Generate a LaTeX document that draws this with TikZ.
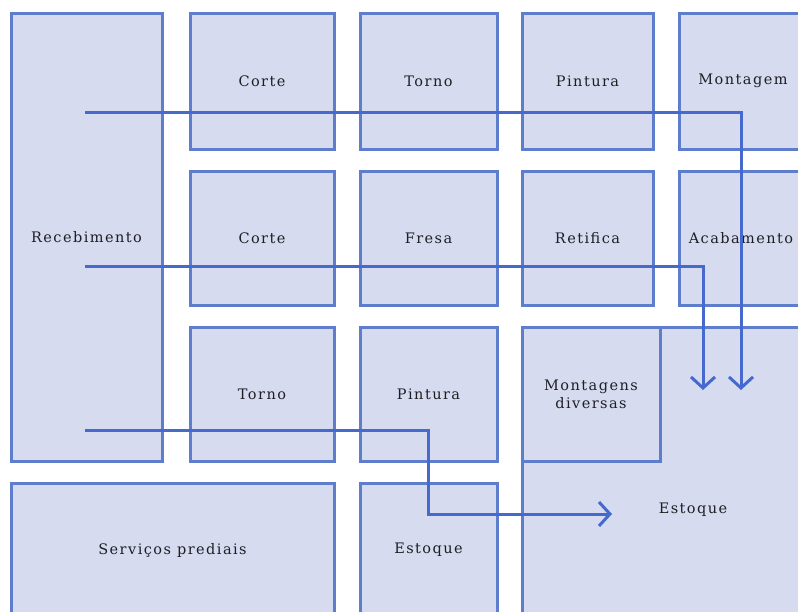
\documentclass[tikz,border=0pt]{standalone}
\usepackage{fontspec}
\setmainfont{DejaVu Serif}[LetterSpace=10]
\usepackage{xcolor}
\usetikzlibrary{positioning,arrows.meta}

\definecolor{areafill}{RGB}{214,219,240}
\definecolor{areaedge}{RGB}{95,125,205}
\definecolor{flowline}{RGB}{70,105,205}
\definecolor{areatext}{RGB}{30,30,35}

\begin{document}
\begin{tikzpicture}[
    x=1pt, y=-1pt,
    area/.style={rectangle, draw=areaedge, line width=3pt, fill=areafill, inner sep=0pt, font=\fontsize{14.5}{18}\selectfont, text=areatext, align=center},
    cell/.style={area, minimum height=134pt},
    flow/.style={draw=flowline, line width=3pt, -{Straight Barb[length=11pt,width=24pt]}},
]
\useasboundingbox (0,0) rectangle (798,611);
\clip (0,0) rectangle (798,611);

% Left: receiving
\node[area, minimum width=151pt, minimum height=448pt] (receb) at (86.5,237) {Recebimento};

% Row 1
\node[cell, minimum width=144pt, minimum height=136pt] (corte1) at (262,81) {Corte};
\node[cell, minimum width=137pt, minimum height=136pt] (torno1) at (428.5,81) {Torno};
\node[cell, minimum width=131pt, minimum height=136pt] (pintura1) at (587.5,81) {Pintura};
\node[cell, minimum width=128pt, minimum height=136pt] (montagem) at (743,81) {Montagem};

% Row 2
\node[cell, minimum width=144pt] (corte2) at (262,238) {Corte};
\node[cell, minimum width=137pt] (fresa) at (428.5,238) {Fresa};
\node[cell, minimum width=131pt] (retifica) at (587.5,238) {Retifica};
\node[cell, minimum width=124pt] (acabamento) at (741,238) {Acabamento};

% Row 3
\node[cell, minimum width=144pt] (torno2) at (262,394) {Torno};
\node[cell, minimum width=137pt] (pintura2) at (428.5,394) {Pintura};

% Stock area (runs off the page)
\node[area, minimum width=342pt, minimum height=366pt] (estoque1) at (693,510) {Estoque};
\node[cell, minimum width=138pt] (montdiv) at (591,394) {Montagens\\diversas};

% Bottom row
\node[cell, minimum width=323pt] (servicos) at (172.5,550) {Servi\c{c}os prediais};
\node[cell, minimum width=137pt] (estoque2) at (428.5,550) {Estoque};

% Flow coordinates
\coordinate (s1) at (85,112);
\coordinate (s2) at (85,266);
\coordinate (s3) at (85,430);
\coordinate (e1) at (741,390);
\coordinate (e2) at (703,390);
\coordinate (e3) at (612,514);

% Flows
\draw[flow] (s1) -| (e1);
\draw[flow] (s2) -| (e2);
\draw[flow] (s3) -- (428,430) |- (e3);

\end{tikzpicture}
\end{document}
